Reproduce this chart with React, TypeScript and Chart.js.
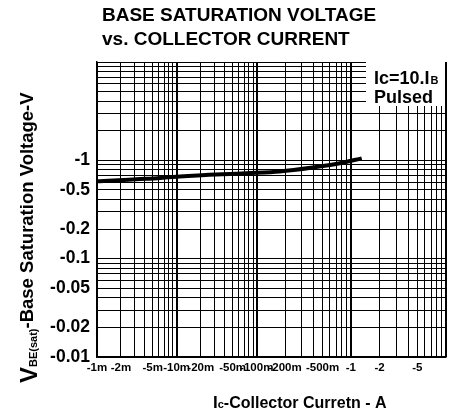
import React, { useEffect, useRef } from 'react';
import { Chart, registerables, LogarithmicScale } from 'chart.js';

Chart.register(...registerables);

// ---- data (absolute values; the device is PNP so labels carry a minus sign) ----
const currentA = [0.001, 0.0042, 0.011, 0.074, 0.176, 0.394, 0.763, 1.3];
const vbeSatV = [0.611, 0.649, 0.686, 0.74, 0.77, 0.845, 0.933, 1.047];

const xTickValues = [0.001, 0.002, 0.005, 0.01, 0.02, 0.05, 0.1, 0.2, 0.5, 1, 2, 5];
const xTickLabels = ['-1m', '-2m', '-5m', '-10m', '-20m', '-50m', '-100m', '-200m', '-500m', '-1', '-2', '-5'];
const yTickValues = [1, 0.5, 0.2, 0.1, 0.05, 0.02, 0.01];
const yTickLabels = ['-1', '-0.5', '-0.2', '-0.1', '-0.05', '-0.02', '-0.01'];

// ---- scale configuration: the printed grid's decades are not equally wide ----
const xDecadeLogs = [-3, -2, -1, 0, 1];
const xDecadeFractions = [0, 0.2281, 0.4577, 0.7274, 1];

const FONT = 'Arial, "Liberation Sans", Helvetica, sans-serif';

function interp(v: number, xs: number[], ys: number[]) {
  if (v <= xs[0]) return ys[0] + (v - xs[0]) * (ys[1] - ys[0]) / (xs[1] - xs[0]);
  for (let i = 0; i < xs.length - 1; i++) {
    if (v <= xs[i + 1]) return ys[i] + (v - xs[i]) * (ys[i + 1] - ys[i]) / (xs[i + 1] - xs[i]);
  }
  const n = xs.length - 1;
  return ys[n] + (v - xs[n]) * (ys[n] - ys[n - 1]) / (xs[n] - xs[n - 1]);
}

class WarpedLogScale extends LogarithmicScale {
  static id = 'warpedLog';
  static defaults = (LogarithmicScale as any).defaults;
  getPixelForValue(value: any) {
    if (value === undefined || value === 0) value = (this as any).min;
    if (value === null || isNaN(value)) return NaN;
    return this.getPixelForDecimal(interp(Math.log10(value), xDecadeLogs, xDecadeFractions));
  }
  getValueForPixel(pixel: number) {
    const d = this.getDecimalForPixel(pixel);
    return Math.pow(10, interp(d, xDecadeFractions, xDecadeLogs));
  }
}
Chart.register(WarpedLogScale as any);

function decadeGrid(minExp: number, maxExp: number) {
  const v: number[] = [];
  for (let e = minExp; e < maxExp; e++) for (let s = 1; s < 10; s++) v.push(s * Math.pow(10, e));
  v.push(Math.pow(10, maxExp));
  return v;
}

function labelFor(value: number, values: number[], labels: string[]) {
  for (let i = 0; i < values.length; i++) {
    if (Math.abs(value - values[i]) / values[i] < 1e-6) return labels[i];
  }
  return '';
}

const isDecade = (v: number) => Math.abs(Math.log10(v) - Math.round(Math.log10(v))) < 1e-6;

const drawTexts = {
  id: 'drawTexts',
  afterDraw(chart: any) {
    const ctx = chart.ctx as CanvasRenderingContext2D;
    const a = chart.chartArea;
    ctx.save();
    ctx.fillStyle = '#000';
    ctx.textAlign = 'left';
    ctx.textBaseline = 'alphabetic';

    // chart title
    ctx.font = `bold 19px ${FONT}`;
    ctx.fillText('BASE SATURATION VOLTAGE', 102, 21);
    ctx.fillText('vs. COLLECTOR CURRENT', 102, 45);

    // condition box
    const bx = a.right - 80;
    ctx.fillStyle = '#fff';
    ctx.fillRect(bx, a.top - 2, a.right - bx - 1, 106 - a.top + 2);
    ctx.strokeStyle = '#000';
    ctx.lineWidth = 1.5;
    ctx.beginPath();
    ctx.moveTo(a.right, a.top);
    ctx.lineTo(a.right, 107);
    ctx.stroke();
    ctx.fillStyle = '#000';
    ctx.font = `bold 18px ${FONT}`;
    ctx.fillText('Ic=10.I', bx + 8, 83.5);
    const w = ctx.measureText('Ic=10.I').width;
    ctx.font = `bold 11px ${FONT}`;
    ctx.fillText('B', bx + 8 + w + 1, 83.5);
    ctx.font = `bold 18px ${FONT}`;
    ctx.fillText('Pulsed', bx + 8, 103);

    // x-axis title
    let x = 213;
    ctx.font = `bold 17px ${FONT}`;
    ctx.fillText('I', x, 408);
    x += ctx.measureText('I').width;
    ctx.font = `bold 11px ${FONT}`;
    ctx.fillText('c', x, 408);
    x += ctx.measureText('c').width;
    ctx.font = `bold 16px ${FONT}`;
    ctx.fillText('-Collector Curretn - A', x, 408);

    // y-axis title (rotated)
    ctx.translate(0, 383);
    ctx.rotate(-Math.PI / 2);
    let t = 0;
    ctx.font = `bold 24px ${FONT}`;
    ctx.fillText('V', t, 37);
    t += ctx.measureText('V').width;
    ctx.font = `bold 11px ${FONT}`;
    ctx.fillText('BE(sat)', t, 37);
    t += ctx.measureText('BE(sat)').width;
    ctx.font = `bold 18.5px ${FONT}`;
    ctx.fillText('-Base Saturation Voltage-V', t, 33);
    ctx.restore();
  },
};

export default function App() {
  const ref = useRef<HTMLCanvasElement | null>(null);
  useEffect(() => {
    if (!ref.current) return;
    const chart = new Chart(ref.current, {
      type: 'line',
      data: {
        datasets: [
          {
            data: currentA.map((c, i) => ({ x: c, y: vbeSatV[i] })),
            borderColor: '#000',
            borderWidth: 4,
            pointRadius: 0,
            cubicInterpolationMode: 'monotone',
            fill: false,
          },
        ],
      },
      options: {
        animation: false,
        responsive: false,
        devicePixelRatio: 1,
        layout: { padding: { left: 0, right: 8, top: 62, bottom: 29 } },
        plugins: { legend: { display: false }, tooltip: { enabled: false }, title: { display: false } },
        scales: {
          x: {
            type: 'warpedLog' as any,
            min: 0.001,
            max: 10,
            afterBuildTicks: (scale: any) => {
              scale.ticks = decadeGrid(-3, 1).map((v) => ({ value: v }));
            },
            afterFit: (scale: any) => {
              scale.height = 30;
            },
            grid: {
              color: '#000',
              lineWidth: (c: any) => (c.tick && isDecade(c.tick.value) ? 2 : 1),
              drawTicks: false,
            },
            border: { display: true, color: '#000', width: 1.5 },
            ticks: {
              autoSkip: false,
              maxRotation: 0,
              minRotation: 0,
              padding: 4,
              color: '#000',
              font: { family: FONT, size: 11.5, weight: 'bold' },
              callback: (v: any) => labelFor(Number(v), xTickValues, xTickLabels),
            },
          },
          y: {
            type: 'logarithmic',
            min: 0.01,
            max: 10,
            afterBuildTicks: (scale: any) => {
              scale.ticks = decadeGrid(-2, 1).map((v) => ({ value: v }));
            },
            afterFit: (scale: any) => {
              scale.width = 97;
            },
            grid: { color: '#000', lineWidth: 1, drawTicks: false },
            border: { display: true, color: '#000', width: 1.5 },
            ticks: {
              autoSkip: false,
              padding: 7,
              color: '#000',
              font: { family: FONT, size: 17.5, weight: 'bold' },
              callback: (v: any) => labelFor(Number(v), yTickValues, yTickLabels),
            },
          },
        },
      },
      plugins: [drawTexts],
    } as any);
    return () => chart.destroy();
  }, []);
  return (
    <div style={{ position: 'fixed', left: 0, top: 0, width: 454, height: 416, background: '#fff' }}>
      <canvas ref={ref} width={454} height={416} style={{ display: 'block' }} />
    </div>
  );
}
